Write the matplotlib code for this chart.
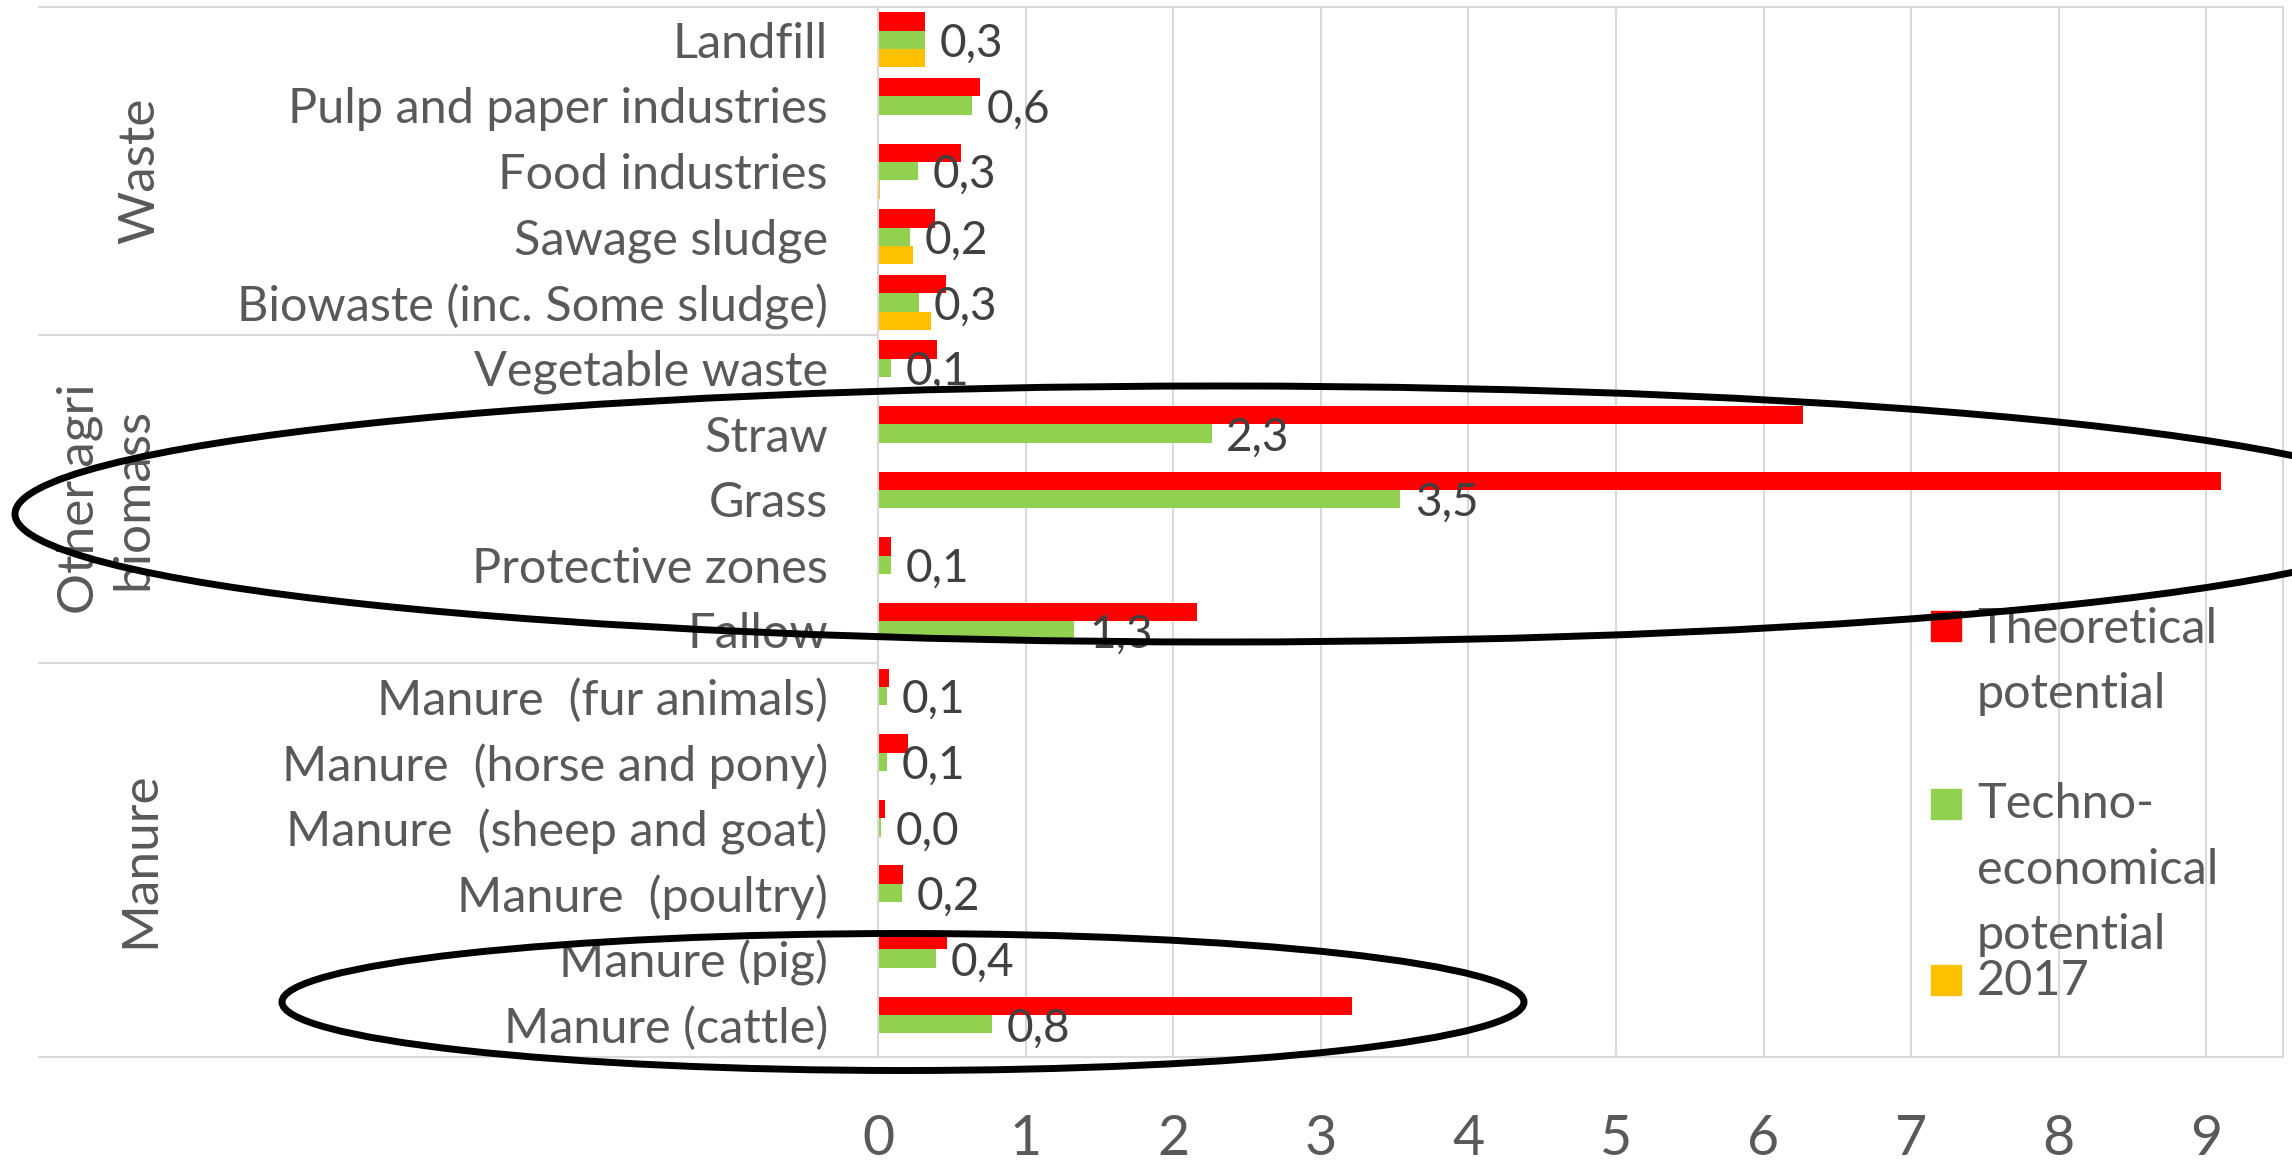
import numpy as np
import matplotlib
matplotlib.use('Agg')
import matplotlib.pyplot as plt
from matplotlib.patches import Ellipse, Rectangle

plt.rcParams['font.family'] = ['Lato', 'DejaVu Sans']

categories = ['Landfill', 'Pulp and paper industries', 'Food industries', 'Sawage sludge',
              'Biowaste (inc. Some sludge)', 'Vegetable waste', 'Straw', 'Grass',
              'Protective zones', 'Fallow', 'Manure  (fur animals)', 'Manure  (horse and pony)',
              'Manure  (sheep and goat)', 'Manure  (poultry)', 'Manure (pig)', 'Manure (cattle)']
groups = ['Waste', 'Other agri\nbiomass', 'Manure']
group_sizes = [5, 5, 6]

theoretical = [0.32, 0.69, 0.56, 0.385, 0.46, 0.40, 6.27, 9.10, 0.09, 2.16, 0.075, 0.20, 0.05, 0.17, 0.47, 3.21]
techno = [0.32, 0.635, 0.27, 0.22, 0.28, 0.09, 2.26, 3.54, 0.09, 1.33, 0.06, 0.06, 0.02, 0.16, 0.39, 0.77]
y2017 = [0.32, 0.01, 0.015, 0.24, 0.36, 0, 0, 0, 0, 0, 0, 0, 0, 0, 0, 0]

series_names = ['Theoretical potential', 'Techno-economical potential', '2017']
legend_lines = [['Theoretical', 'potential'], ['Techno-', 'economical', 'potential'], ['2017']]
colors = ['#FF0000', '#92D050', '#FFC000']
xticks = list(range(10))

W, H = 2292, 1167
def fx(px): return px / W
def fy(py): return 1 - py / H

fig = plt.figure(figsize=(W / 100, H / 100), dpi=100)
ax = fig.add_axes([fx(878), fy(1057), fx(2283) - fx(878), fy(7) - fy(1057)])

idx = np.arange(len(categories))
bh = 0.28
for vals, off, c, name in zip([theoretical, techno, y2017], [-bh, 0, bh], colors, series_names):
    ax.barh(idx + off, vals, height=bh, color=c, zorder=2, label=name)

# data labels on techno-economical series
for i, v in enumerate(techno):
    ax.annotate(f'{v:.1f}'.replace('.', ','), (v, i), xytext=(10.5, 0), textcoords='offset points',
                ha='left', va='center_baseline', fontsize=33, color='#404040', zorder=3)

ax.set_ylim(len(categories) - 0.5, -0.5)
ax.set_xlim(0, 9.52)
ax.set_xticks(xticks)
ax.set_xticklabels([str(t) for t in xticks])
ax.set_yticks(idx)
ax.set_yticklabels(categories)
ax.tick_params(axis='x', length=0, pad=41, labelsize=40, labelcolor='#595959')
ax.tick_params(axis='y', length=0, pad=36, labelsize=35, labelcolor='#595959')
ax.xaxis.grid(True, color='#d9d9d9', lw=1.5, zorder=0)
ax.set_axisbelow(True)
for s in ax.spines.values():
    s.set_color('#d9d9d9')
    s.set_linewidth(1.5)

# multi-level category separators and group labels
left_frac = (39 - 878) / (2283 - 878)
tr = ax.get_yaxis_transform()
bounds = np.concatenate([[0], np.cumsum(group_sizes)]) - 0.5
for b in bounds:
    ax.plot([left_frac, 0], [b, b], color='#d9d9d9', lw=1.5, transform=tr, clip_on=False)
group_x = [140, 106, 140]
for g, x, lo, hi in zip(groups, group_x, bounds[:-1], bounds[1:]):
    ax.text((x - 878) / (2283 - 878), (lo + hi) / 2, g, transform=tr, rotation=90,
            ha='center', va='center', fontsize=37, color='#595959', linespacing=1.2)

# legend
sq_y = [626, 804, 980]
baselines = [[643, 708], [818, 884, 949], [995]]
for c, cy, lines, bls in zip(colors, sq_y, legend_lines, baselines):
    fig.add_artist(Rectangle((fx(1931), fy(cy + 15)), fx(30), 30 / H, color=c, transform=fig.transFigure))
    for t, b in zip(lines, bls):
        fig.text(fx(1977), fy(b), t, ha='left', va='baseline', fontsize=35, color='#595959')

# hand-drawn highlight ellipses
fig.add_artist(Ellipse((12.20, (H - 514) / 100), 24.10, 2.56, fill=False, ec='black', lw=5,
                       transform=fig.dpi_scale_trans, zorder=10))
fig.add_artist(Ellipse((9.03, (H - 1002) / 100), 12.42, 1.37, fill=False, ec='black', lw=5,
                       transform=fig.dpi_scale_trans, zorder=10))

fig.savefig('out.png', dpi=100)
